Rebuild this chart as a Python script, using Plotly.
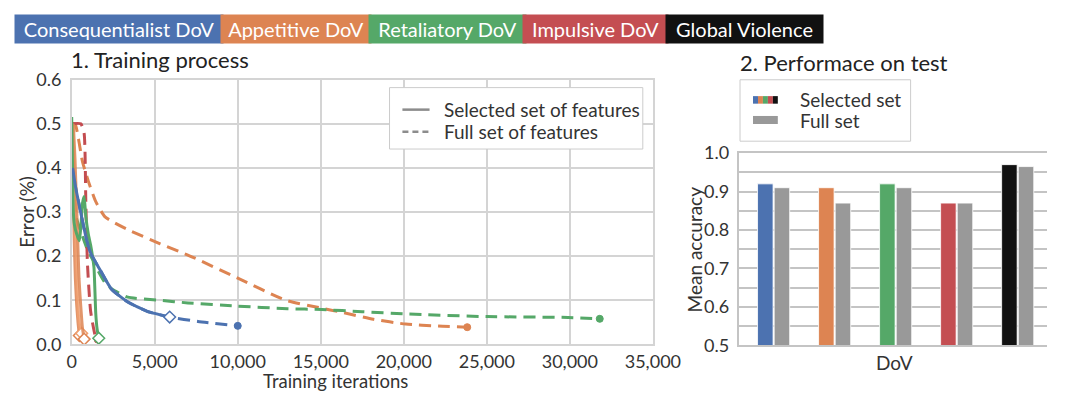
import plotly.graph_objects as go

W, H = 1075, 401

# ---------------- data: training process (iterations, error) ----------------
cons_full_x = [0, 100, 230, 560, 850, 1140, 1720, 2400, 3380, 4550, 5900, 7600, 10000]
cons_full_y = [0.50, 0.40, 0.357, 0.296, 0.245, 0.207, 0.168, 0.125, 0.096, 0.075, 0.062, 0.052, 0.042]
cons_sel_x = [60, 230, 560, 850, 1140, 1720, 2400, 3380, 4550, 5900]
cons_sel_y = [0.40, 0.357, 0.296, 0.245, 0.207, 0.168, 0.125, 0.096, 0.075, 0.062]

app_full_x = [0, 200, 650, 1000, 1430, 2010, 3380, 5330, 7270, 10000, 12900, 15060, 16230, 18170, 20120, 22070, 23820]
app_full_y = [0.50, 0.50, 0.414, 0.37, 0.325, 0.289, 0.26, 0.228, 0.198, 0.15, 0.10, 0.082, 0.073, 0.057, 0.046, 0.0415, 0.039]
app_sel1_x = [0, 50, 100, 150, 220, 300, 380, 460]
app_sel1_y = [0.50, 0.42, 0.33, 0.24, 0.15, 0.09, 0.05, 0.02]
app_sel2_x = [50, 130, 200, 270, 340, 420, 520, 600]
app_sel2_y = [0.50, 0.40, 0.30, 0.20, 0.12, 0.06, 0.035, 0.025]
app_sel3_x = [100, 200, 280, 360, 440, 540, 640, 750]
app_sel3_y = [0.50, 0.42, 0.33, 0.24, 0.15, 0.09, 0.04, 0.012]

ret_full_x = [0, 100, 260, 600, 1000, 1300, 1630, 2000, 2400, 3380, 5330, 7000, 9900, 13000, 15060, 17500, 20120, 25000, 29900, 31800]
ret_full_y = [0.50, 0.38, 0.29, 0.25, 0.21, 0.19, 0.164, 0.14, 0.126, 0.107, 0.10, 0.094, 0.087, 0.081, 0.079, 0.074, 0.069, 0.063, 0.061, 0.058]
ret_sel_x = [0, 50, 100, 170, 300, 460, 560, 650, 750, 850, 1000, 1140, 1340, 1400, 1450, 1530, 1630]
ret_sel_y = [0.515, 0.40, 0.30, 0.27, 0.25, 0.235, 0.27, 0.32, 0.335, 0.29, 0.25, 0.225, 0.175, 0.12, 0.07, 0.035, 0.014]

imp_full_x = [0, 550, 750, 850, 950, 1140, 1430, 1570]
imp_full_y = [0.50, 0.50, 0.478, 0.325, 0.182, 0.075, 0.018, 0.011]

x_ticks = [0, 5000, 10000, 15000, 20000, 25000, 30000, 35000]

# ---------------- data: performance on test ----------------
dov_labels = ["Consequentialist DoV", "Appetitive DoV", "Retaliatory DoV", "Impulsive DoV", "Global Violence"]
acc_selected = [0.92, 0.91, 0.92, 0.87, 0.97]
acc_full = [0.91, 0.87, 0.91, 0.87, 0.965]

left_legend_labels = ["Selected set of features", "Full set of features"]
right_legend_labels = ["Selected set", "Full set"]

# ---------------- styles ----------------
BLUE, ORANGE, GREEN, RED, BLACK, GRAY = "#4c72b0", "#dd8452", "#55a868", "#c44e52", "#111111", "#999999"
dov_colors = [BLUE, ORANGE, GREEN, RED, BLACK]
FONT = "Lato"
TXT = "#333333"
DASH = "12px,7px"
LW = 3


def px(x):
    return x / W


def py(y):
    return 1 - y / H


fig = go.Figure()


def curve(x, y, color, dashed, opacity=1.0):
    fig.add_trace(go.Scatter(
        x=x, y=y, mode="lines", opacity=opacity,
        line=dict(color=color, width=LW, dash=DASH if dashed else "solid",
                  shape="spline", smoothing=0.5),
        showlegend=False, hoverinfo="skip", xaxis="x", yaxis="y"))
    if dashed:
        mk = dict(symbol="circle", size=7, color=color, line=dict(color=color, width=1))
    else:
        mk = dict(symbol="diamond", size=9, color="white", line=dict(color=color, width=1.5))
    fig.add_trace(go.Scatter(
        x=[x[-1]], y=[y[-1]], mode="markers", marker=mk,
        showlegend=False, hoverinfo="skip", xaxis="x", yaxis="y"))


# dashed (full set) first
curve(app_full_x, app_full_y, ORANGE, True)
curve(ret_full_x, ret_full_y, GREEN, True)
curve(cons_full_x, cons_full_y, BLUE, True)
curve(imp_full_x, imp_full_y, RED, True)
# solid (selected set)
curve(app_sel1_x, app_sel1_y, ORANGE, False, 0.85)
curve(app_sel2_x, app_sel2_y, "#f0a070", False, 0.85)
curve(app_sel3_x, app_sel3_y, ORANGE, False, 0.85)
curve(ret_sel_x, ret_sel_y, GREEN, False)
curve(cons_sel_x, cons_sel_y, BLUE, False)

# bars
fig.add_trace(go.Bar(x=dov_labels, y=acc_selected, marker=dict(color=dov_colors, line=dict(color="white", width=0.8)),
                     showlegend=False, hoverinfo="skip", xaxis="x2", yaxis="y2", name=right_legend_labels[0]))
fig.add_trace(go.Bar(x=dov_labels, y=acc_full, marker=dict(color=GRAY, line=dict(color="white", width=0.8)),
                     showlegend=False, hoverinfo="skip", xaxis="x2", yaxis="y2", name=right_legend_labels[1]))

GRID_L = "#d4d4d4"
GRID_R = "#c4c4c4"

fig.update_layout(
    width=W, height=H, margin=dict(l=0, r=0, t=0, b=0),
    paper_bgcolor="white", plot_bgcolor="white",
    font=dict(family=FONT, color=TXT, size=18),
    showlegend=False,
    barmode="group", bargap=0.455, bargroupgap=0.067,
    xaxis=dict(domain=[px(68.8), px(668.4)], range=[0, 35000], tickvals=x_ticks, tickformat=",",
               showgrid=True, gridcolor=GRID_L, gridwidth=1.5, showline=True, linecolor=GRID_L,
               linewidth=1.5, mirror=True, zeroline=False, ticks="", tickfont=dict(size=18, color=TXT),
               anchor="y"),
    yaxis=dict(domain=[py(351.7), py(71.5)], range=[0, 0.6], dtick=0.1, tickformat=".1f",
               showgrid=True, gridcolor=GRID_L, gridwidth=1.5, showline=True, linecolor=GRID_L,
               linewidth=1.5, mirror=True, zeroline=False, ticks="", ticklabelstandoff=5,
               tickfont=dict(size=18, color=TXT), anchor="x"),
    xaxis2=dict(domain=[px(757.7), 1.0], range=[-0.56, 4.48], showticklabels=False, showgrid=False,
                showline=True, linecolor=GRID_R, linewidth=1.5, mirror=True, zeroline=False,
                ticks="", anchor="y2"),
    yaxis2=dict(domain=[py(352.7), py(149.3)], range=[0.5, 1.0], dtick=0.1, tickformat=".1f",
                showgrid=True, gridcolor=GRID_R, gridwidth=1.5,
                minor=dict(dtick=0.05, showgrid=True, gridcolor=GRID_R, gridwidth=1.5),
                showline=True, linecolor=GRID_R, linewidth=1.5, zeroline=False, ticks="",
                ticklabelstandoff=5, tickfont=dict(size=18, color=TXT), anchor="x2"),
)

annotations = []
# banner
banner = [(14, 222), (225, 375), (378, 535), (537, 682), (684, 841)]
for (x0, x1), lab, col in zip(banner, dov_labels, dov_colors):
    annotations.append(dict(
        x=px((x0 + x1) / 2), y=py(17.9), xref="paper", yref="paper", xanchor="center", yanchor="middle",
        text=lab, showarrow=False, width=x1 - x0, height=28, bgcolor=col, borderpad=0,
        font=dict(family=FONT, size=20, color="white")))
# titles
annotations.append(dict(x=px(66), y=py(50), xref="paper", yref="paper", xanchor="left", yanchor="middle",
                        text="1. Training process", showarrow=False, font=dict(size=22, color="#222222")))
annotations.append(dict(x=px(756), y=py(53), xref="paper", yref="paper", xanchor="left", yanchor="middle",
                        text="2. Performace on test", showarrow=False, font=dict(size=22, color="#222222")))
# axis titles
annotations.append(dict(x=px(22), y=py(211), xref="paper", yref="paper", xanchor="center", yanchor="middle",
                        text="Error (%)", textangle=-90, showarrow=False, font=dict(size=19, color=TXT)))
annotations.append(dict(x=px(341), y=py(390), xref="paper", yref="paper", xanchor="center", yanchor="middle",
                        text="Training iterations", showarrow=False, font=dict(size=18.5, color=TXT)))
annotations.append(dict(x=px(711), y=py(251), xref="paper", yref="paper", xanchor="center", yanchor="middle",
                        text="Mean accuracy", textangle=-90, showarrow=False, font=dict(size=19, color=TXT)))
annotations.append(dict(x=px(918), y=py(371), xref="paper", yref="paper", xanchor="center", yanchor="middle",
                        text="DoV", showarrow=False, font=dict(size=19, color=TXT)))

shapes = []
# ---- left legend (line styles) ----
shapes.append(dict(type="rect", xref="paper", yref="paper", x0=px(396.7), x1=px(658), y0=py(145), y1=py(80),
                   line=dict(color="#cccccc", width=1), fillcolor="white", layer="above"))
for lab, yy, dsh in zip(left_legend_labels, [103.3, 126.7], ["solid", "6px,4px"]):
    shapes.append(dict(type="line", xref="paper", yref="paper", x0=px(410), x1=px(438), y0=py(yy), y1=py(yy),
                       line=dict(color="#8c8c8c", width=2.5, dash=dsh), layer="above"))
    annotations.append(dict(x=px(450.5), y=py(yy), xref="paper", yref="paper", xanchor="left", yanchor="middle",
                            text=lab, showarrow=False, font=dict(size=19, color=TXT)))

# ---- right legend (bar colours) ----
shapes.append(dict(type="rect", xref="paper", yref="paper", x0=px(758.3), x1=px(934.3), y0=py(136.7), y1=py(71.7),
                   line=dict(color="#cccccc", width=1), fillcolor="white", layer="below"))
sw0, sw1 = 771.7, 797.3
step = (sw1 - sw0) / len(dov_colors)
for i, c in enumerate(dov_colors):
    shapes.append(dict(type="rect", xref="paper", yref="paper", x0=px(sw0 + i * step), x1=px(sw0 + (i + 1) * step),
                       y0=py(97), y1=py(89), line=dict(width=0), fillcolor=c))
shapes.append(dict(type="rect", xref="paper", yref="paper", x0=px(sw0), x1=px(sw1), y0=py(118.5), y1=py(110),
                   line=dict(width=0), fillcolor=GRAY))
for lab, yy in zip(right_legend_labels, [92.5, 114.5]):
    annotations.append(dict(x=px(818), y=py(yy), xref="paper", yref="paper", xanchor="left", yanchor="middle",
                            text=lab, showarrow=False, font=dict(size=19, color=TXT)))

fig.update_layout(annotations=annotations, shapes=shapes)

fig.write_html("out.html")
